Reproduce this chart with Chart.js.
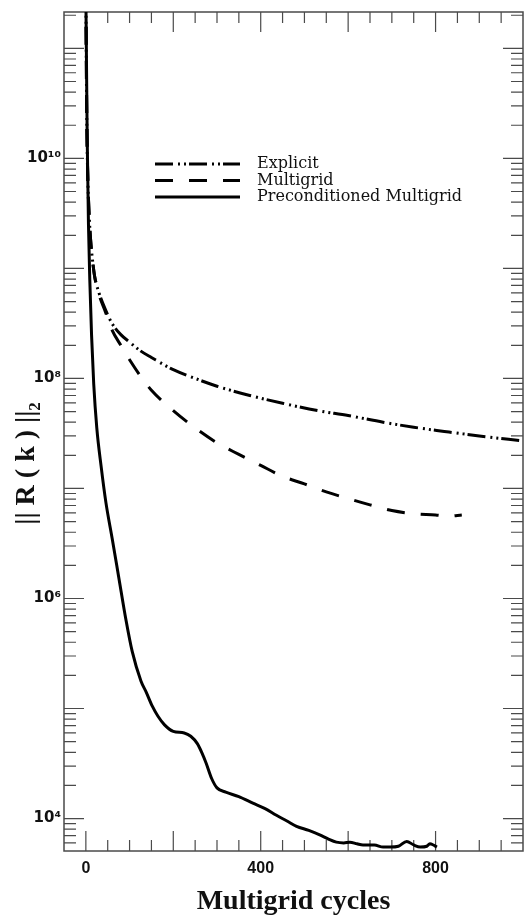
<!DOCTYPE html>
<html><head><meta charset="utf-8">
<script src="https://cdn.jsdelivr.net/npm/chart.js@4/dist/chart.umd.min.js"></script>
<style>html,body{margin:0;padding:0;background:#fff}#wrap{width:527px;height:920px;position:relative}</style>
</head><body><div id="wrap"><canvas id="c"></canvas></div>
<script>
// ---- data ----
const seriesNames = ['Explicit', 'Multigrid', 'Preconditioned Multigrid'];

const explicitCycles = [0, 2, 4, 8, 12, 16, 20, 30, 45, 60, 80, 100, 125, 150, 200, 250, 300, 375, 450, 530, 600, 680, 750, 820, 900, 1000];
const explicitValues = [3.2e11, 2.5e10, 7.9e9, 2.8e9, 1.6e9, 1.12e9, 8.5e8, 6.0e8, 4.2e8, 3.16e8, 2.5e8, 2.14e8, 1.78e8, 1.55e8, 1.2e8, 1.0e8, 8.5e7, 7.0e7, 5.95e7, 5.1e7, 4.6e7, 4.0e7, 3.6e7, 3.3e7, 3.0e7, 2.7e7];

const multigridCycles = [0, 2, 4, 8, 12, 16, 20, 30, 45, 60, 80, 100, 125, 150, 200, 250, 300, 350, 400, 450, 500, 550, 600, 650, 700, 750, 800, 830, 860];
const multigridValues = [3.2e11, 2.5e10, 7.9e9, 2.8e9, 1.6e9, 1.12e9, 8.5e8, 5.8e8, 4.0e8, 2.75e8, 2.0e8, 1.48e8, 1.05e8, 7.8e7, 5.1e7, 3.55e7, 2.6e7, 2.04e7, 1.62e7, 1.29e7, 1.1e7, 9.3e6, 8.1e6, 7.1e6, 6.3e6, 5.9e6, 5.75e6, 5.6e6, 5.75e6];

const precondCycles = [0, 3, 6, 9, 13, 18, 25, 35, 46, 60, 75, 92, 106, 126, 138, 152, 165, 180, 200, 225, 240, 255, 265, 275, 288, 300, 320, 350, 382, 410, 436, 460, 482, 510, 535, 555, 573, 590, 604, 620, 634, 660, 680, 696, 715, 734, 750, 765, 780, 787, 795, 803];
const precondValues = [3.2e11, 1.6e10, 2.5e9, 7.9e8, 2.5e8, 8.9e7, 3.55e7, 1.58e7, 7.4e6, 3.55e6, 1.58e6, 6.3e5, 3.3e5, 1.78e5, 1.41e5, 1.05e5, 8.5e4, 7.1e4, 6.2e4, 6.0e4, 5.6e4, 4.8e4, 4.0e4, 3.2e4, 2.3e4, 1.9e4, 1.74e4, 1.58e4, 1.38e4, 1.23e4, 1.07e4, 9.5e3, 8.5e3, 7.8e3, 7.1e3, 6.5e3, 6.1e3, 6.0e3, 6.1e3, 5.9e3, 5.75e3, 5.75e3, 5.5e3, 5.5e3, 5.6e3, 6.2e3, 5.75e3, 5.5e3, 5.6e3, 5.9e3, 5.75e3, 5.5e3];

// axis ticks and labels
const xLabelTicks = [0, 400, 800];
const xMinorStep = 50, xMajorStep = 200;
const yLabelTicks = [1e4, 1e6, 1e8, 1e10];
const yTickLabels = ['10⁴', '10⁶', '10⁸', '10¹⁰'];
const xTitle = 'Multigrid cycles';
const yTitle = '|| R ( k ) ||₂';

const toPts = (xs, ys) => xs.map((x, i) => ({x: x, y: ys[i]}));

const framePlugin = {
  id: 'frame',
  beforeDatasetsDraw(chart) {
    const {ctx, chartArea: a, scales: {x, y}} = chart;
    ctx.save();
    ctx.strokeStyle = '#4a4a4a';
    ctx.lineWidth = 1.5;
    ctx.strokeRect(a.left, a.top, a.right - a.left, a.bottom - a.top);
    ctx.lineWidth = 1.2;
    ctx.beginPath();
    for (let v = x.min; v <= x.max; v += xMinorStep) {
      const px = x.getPixelForValue(v);
      if (px <= a.left + 1 || px >= a.right - 1) continue;
      const L = (v % xMajorStep === 0) ? 20 : 11;
      ctx.moveTo(px, a.bottom); ctx.lineTo(px, a.bottom - L);
      ctx.moveTo(px, a.top); ctx.lineTo(px, a.top + L);
    }
    for (let e = 3; e <= 11; e++) {
      for (let m = 1; m <= 9; m++) {
        const v = m * Math.pow(10, e);
        if (v < y.min || v > y.max) continue;
        const py = y.getPixelForValue(v);
        const L = m === 1 ? 20 : 12;
        ctx.moveTo(a.left, py); ctx.lineTo(a.left + L, py);
        ctx.moveTo(a.right, py); ctx.lineTo(a.right - L, py);
      }
    }
    ctx.stroke();
    ctx.restore();
  }
};

const legendPlugin = {
  id: 'lg',
  afterDatasetsDraw(chart) {
    const {ctx, chartArea: a} = chart;
    const x0 = a.left + 91, x1 = a.left + 176, tx = a.left + 193, y0 = a.top + 152, dy = 16.5;
    chart.data.datasets.forEach((ds, i) => {
      const yy = y0 + i * dy;
      ctx.save();
      ctx.strokeStyle = ds.borderColor;
      ctx.lineWidth = ds.borderWidth;
      ctx.setLineDash(ds.borderDash || []);
      ctx.beginPath(); ctx.moveTo(x0, yy); ctx.lineTo(x1, yy); ctx.stroke();
      ctx.setLineDash([]);
      ctx.fillStyle = '#111';
      ctx.font = '16px "DejaVu Serif"';
      ctx.textBaseline = 'middle';
      ctx.fillText(ds.label, tx, yy);
      ctx.restore();
    });
  }
};

const yTitlePlugin = {
  id: 'ytitle',
  afterDraw(chart) {
    const {ctx, chartArea: a} = chart;
    ctx.save();
    ctx.translate(27, (a.top + a.bottom) / 2 + 32);
    ctx.rotate(-Math.PI / 2);
    ctx.font = 'bold 28px "Liberation Serif", "DejaVu Serif"';
    ctx.fillStyle = '#111';
    ctx.textAlign = 'center';
    ctx.textBaseline = 'middle';
    ctx.fillText(yTitle, 0, 0);
    ctx.restore();
  }
};

const common = {borderColor: '#000', borderWidth: 3, pointRadius: 0, cubicInterpolationMode: 'monotone', fill: false};

new Chart(document.getElementById('c'), {
  type: 'line',
  data: {
    datasets: [
      Object.assign({label: seriesNames[0], data: toPts(explicitCycles, explicitValues), borderDash: [18, 5, 2, 4, 2, 3]}, common),
      Object.assign({label: seriesNames[1], data: toPts(multigridCycles, multigridValues), borderDash: [18, 16]}, common),
      Object.assign({label: seriesNames[2], data: toPts(precondCycles, precondValues), borderDash: []}, common)
    ]
  },
  options: {
    responsive: true,
    maintainAspectRatio: false,
    animation: false,
    layout: {padding: {top: 6, right: 4, left: 0, bottom: 0}},
    plugins: {legend: {display: false}, tooltip: {enabled: false}},
    scales: {
      x: {
        type: 'linear', min: -50, max: 1000,
        grid: {display: false, drawTicks: false}, border: {display: false},
        afterBuildTicks: s => { s.ticks = xLabelTicks.map(v => ({value: v})); },
        afterFit: s => { s.height = 69; },
        ticks: {font: {family: 'Liberation Sans', weight: 'bold', size: 16}, color: '#111', padding: 8, maxRotation: 0, autoSkip: false},
        title: {display: true, text: xTitle, font: {family: 'Liberation Serif', weight: 'bold', size: 28, lineHeight: 1}, color: '#111', padding: {top: 0, bottom: 4}}
      },
      y: {
        type: 'logarithmic', min: 5070, max: 2.14e11,
        grid: {display: false, drawTicks: false}, border: {display: false},
        afterBuildTicks: s => { s.ticks = yLabelTicks.map(v => ({value: v})); },
        afterFit: s => { s.width = 64; },
        ticks: {
          callback: v => { const i = yLabelTicks.indexOf(v); return i >= 0 ? yTickLabels[i] : ''; },
          font: {family: 'DejaVu Sans', weight: 'bold', size: 15}, color: '#111', padding: 3, autoSkip: false
        }
      }
    }
  },
  plugins: [framePlugin, legendPlugin, yTitlePlugin]
});
</script>
</body></html>
